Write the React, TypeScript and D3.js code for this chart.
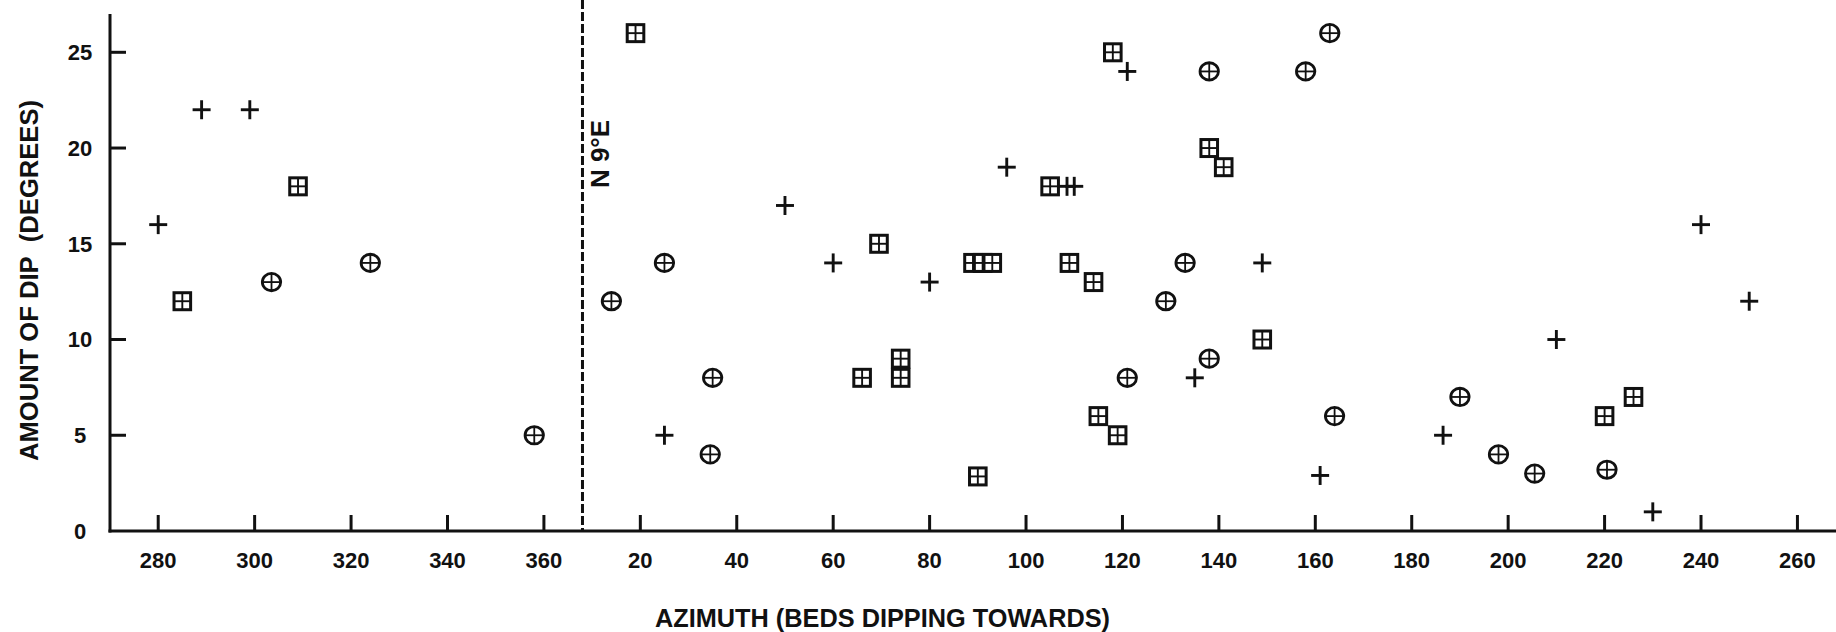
import React from "react";
import * as d3 from "d3";

// Data: [azimuth (degrees, beds dipping towards), amount of dip (degrees)]
const plusPoints: [number, number][] = [
  [280, 16], [289, 22], [299, 22], [25, 5], [50, 17], [60, 14], [80, 13],
  [96, 19], [108.5, 18], [110, 18], [121, 24], [135, 8], [149, 14], [161, 2.9],
  [186.5, 5], [210, 10], [230, 1], [240, 16], [250, 12],
];
const circlePoints: [number, number][] = [
  [303.5, 13], [324, 14], [358, 5], [14, 12], [25, 14], [35, 8], [34.5, 4],
  [121, 8], [129, 12], [133, 14], [138, 24], [138, 9], [158, 24], [163, 26],
  [164, 6], [190, 7], [198, 4], [205.5, 3], [220.5, 3.2],
];
const squarePoints: [number, number][] = [
  [285, 12], [309, 18], [19, 26], [66, 8], [69.5, 15], [74, 9], [74, 8],
  [89, 14], [91, 14], [93, 14], [90, 2.85], [105, 18], [109, 14], [114, 13],
  [115, 6], [118, 25], [119, 5], [138, 20], [141, 19], [149, 10], [220, 6], [226, 7],
];
const xTickLabels: number[] = [280, 300, 320, 340, 360, 20, 40, 60, 80, 100, 120, 140, 160, 180, 200, 220, 240, 260];
const yTickLabels: number[] = [0, 5, 10, 15, 20, 25];
const dashedAzimuth = 8;
const dashedLabel = "N 9°E";
const xTitle = "AZIMUTH (BEDS DIPPING TOWARDS)";
const yTitle = "AMOUNT OF DIP\u00a0\u00a0(DEGREES)";

const W = 1836;
const H = 632;
const FONT = "'Liberation Sans', Arial, sans-serif";

const unwrap = (a: number) => (a >= 270 ? a : a + 360);

export default function App() {
  const x = d3.scaleLinear().domain([270, 628]).range([110, 1836]);
  const y = d3.scaleLinear().domain([0, 27]).range([531, 14]);
  const x0 = x(270);
  const y0 = y(0);

  const plus = (d: [number, number], i: number) => {
    const cx = x(unwrap(d[0]));
    const cy = y(d[1]);
    return (
      <g key={"p" + i} stroke="#111" strokeWidth={2.9}>
        <line x1={cx - 9} x2={cx + 9} y1={cy} y2={cy} />
        <line x1={cx} x2={cx} y1={cy - 9.5} y2={cy + 9.5} />
      </g>
    );
  };
  const circ = (d: [number, number], i: number) => {
    const cx = x(unwrap(d[0]));
    const cy = y(d[1]);
    return (
      <g key={"c" + i} stroke="#111" fill="none">
        <ellipse cx={cx} cy={cy} rx={9.2} ry={8.7} strokeWidth={2.8} />
        <line x1={cx - 9} x2={cx + 9} y1={cy} y2={cy} strokeWidth={1.8} />
        <line x1={cx} x2={cx} y1={cy - 8.6} y2={cy + 8.6} strokeWidth={1.8} />
      </g>
    );
  };
  const sq = (d: [number, number], i: number) => {
    const cx = x(unwrap(d[0]));
    const cy = y(d[1]);
    return (
      <g key={"s" + i} stroke="#111" fill="none">
        <rect x={cx - 8.3} y={cy - 8.5} width={16.6} height={17} strokeWidth={3} fill="#fff" />
        <line x1={cx - 8.3} x2={cx + 8.3} y1={cy} y2={cy} strokeWidth={1.9} />
        <line x1={cx} x2={cx} y1={cy - 8.5} y2={cy + 8.5} strokeWidth={1.9} />
      </g>
    );
  };

  const dx = x(unwrap(dashedAzimuth));

  return (
    <svg
      width={W}
      height={H}
      style={{ position: "absolute", left: 0, top: 0, background: "#fff" }}
      fontFamily={FONT}
    >
      <rect x={0} y={0} width={W} height={H} fill="#fff" />
      {/* axes */}
      <line x1={x0} x2={x0} y1={y(27)} y2={y0 + 1.5} stroke="#111" strokeWidth={3} />
      <line x1={x0 - 1.5} x2={W} y1={y0} y2={y0} stroke="#111" strokeWidth={3.2} />
      {yTickLabels.filter((v) => v > 0).map((v) => (
        <line key={"yt" + v} x1={x0} x2={x0 + 16} y1={y(v)} y2={y(v)} stroke="#111" strokeWidth={3} />
      ))}
      {yTickLabels.map((v) => (
        <text key={"yl" + v} x={80} y={y(v)} dy="0.36em" textAnchor="middle" fontSize={22} fontWeight="bold" fill="#111">
          {v}
        </text>
      ))}
      {xTickLabels.map((v) => (
        <g key={"xt" + v}>
          <line x1={x(unwrap(v))} x2={x(unwrap(v))} y1={y0} y2={y0 - 16} stroke="#111" strokeWidth={3} />
          <text x={x(unwrap(v))} y={568} textAnchor="middle" fontSize={22} fontWeight="bold" fill="#111">
            {v}
          </text>
        </g>
      ))}
      {/* dashed N 9°E line */}
      <line x1={dx} x2={dx} y1={0} y2={y0} stroke="#111" strokeWidth={3} strokeDasharray="9 3" />
      <text
        transform={`translate(${dx + 27},154) rotate(-90)`}
        textAnchor="middle"
        fontSize={26}
        fontWeight="bold"
        fill="#111"
      >
        {dashedLabel}
      </text>
      {/* titles */}
      <text
        transform={`translate(38,${(100 + 461) / 2}) rotate(-90)`}
        textAnchor="middle"
        fontSize={25}
        fontWeight="bold"
        fill="#111"
        textLength={361}
        lengthAdjust="spacingAndGlyphs"
      >
        {yTitle}
      </text>
      <text
        x={(655 + 1110) / 2}
        y={627}
        textAnchor="middle"
        fontSize={25}
        fontWeight="bold"
        fill="#111"
        textLength={455}
        lengthAdjust="spacingAndGlyphs"
      >
        {xTitle}
      </text>
      {/* marks */}
      {squarePoints.map(sq)}
      {circlePoints.map(circ)}
      {plusPoints.map(plus)}
    </svg>
  );
}
